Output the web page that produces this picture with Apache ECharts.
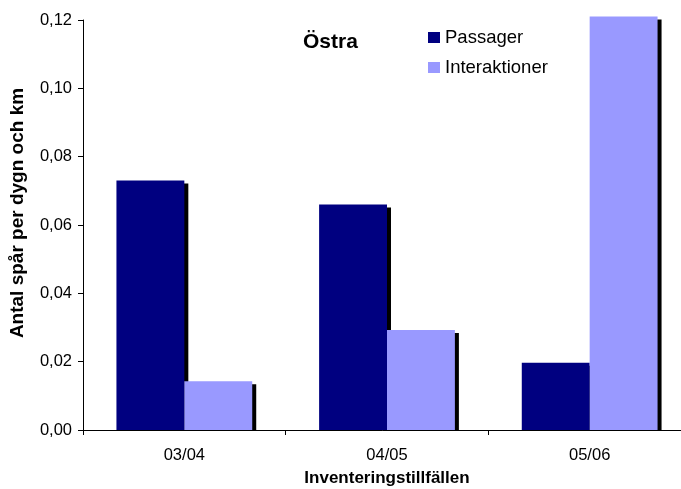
<!DOCTYPE html>
<html>
<head>
<meta charset="utf-8">
<script src="https://cdn.jsdelivr.net/npm/echarts@6/dist/echarts.min.js"></script>
<style>
html,body{margin:0;padding:0;background:#fff;}
#chart{width:681px;height:489px;}
</style>
</head>
<body>
<div id="chart"></div>
<script>
const categories = ['03/04', '04/05', '05/06'];
const passager = [0.073, 0.066, 0.0197];
const interaktioner = [0.0143, 0.0293, 0.121];
const seriesNames = ['Passager', 'Interaktioner'];
const yTicks = { min: 0, max: 0.12, interval: 0.02 };

const FONT = '"Liberation Sans", Arial, sans-serif';
const chart = echarts.init(document.getElementById('chart'), null, { renderer: 'canvas' });
const shadow = { shadowColor: '#000', shadowBlur: 0, shadowOffsetX: 4, shadowOffsetY: 3 };

chart.setOption({
  animation: false,
  backgroundColor: '#fff',
  title: {
    text: 'Östra',
    left: 303, top: 32,
    padding: 0,
    textStyle: { fontFamily: FONT, fontWeight: 'bold', fontSize: 21, color: '#000' }
  },
  legend: {
    orient: 'vertical',
    left: 428, top: 28,
    padding: 0,
    itemWidth: 12, itemHeight: 11,
    itemGap: 11,
    icon: 'rect',
    data: seriesNames,
    itemStyle: { shadowBlur: 0, shadowColor: 'rgba(0,0,0,0)', shadowOffsetX: 0, shadowOffsetY: 0 },
    textStyle: { fontFamily: FONT, fontSize: 18.5, color: '#000', lineHeight: 18 }
  },
  grid: { left: 83, width: 608, top: 20, bottom: 59, containLabel: false, outerBoundsMode: 'none' },
  graphic: [{
    type: 'rect', z: 3, silent: true,
    shape: { x: 83, y: 430.5, width: 600, height: 4 },
    style: { fill: '#fff' }
  }],
  xAxis: {
    type: 'category',
    data: categories,
    z: 5,
    name: 'Inventeringstillfällen',
    nameLocation: 'middle',
    nameGap: 40,
    nameTextStyle: { fontFamily: FONT, fontWeight: 'bold', fontSize: 17, color: '#000' },
    axisLine: { lineStyle: { color: '#000', width: 1 } },
    axisTick: { show: true, length: 5, lineStyle: { color: '#000' } },
    axisLabel: { fontFamily: FONT, fontSize: 16.5, color: '#000', margin: 17 },
    splitLine: { show: false }
  },
  yAxis: {
    type: 'value',
    min: yTicks.min, max: yTicks.max, interval: yTicks.interval,
    name: 'Antal spår per dygn och km',
    nameLocation: 'middle',
    nameGap: 56,
    nameTextStyle: { fontFamily: FONT, fontWeight: 'bold', fontSize: 19, color: '#000', padding: [0, 0, 0, 24] },
    axisLine: { show: true, lineStyle: { color: '#000', width: 1 } },
    axisTick: { show: true, length: 5, lineStyle: { color: '#000' } },
    axisLabel: {
      fontFamily: FONT, fontSize: 16.5, color: '#000', margin: 11,
      formatter: v => v.toFixed(2).replace('.', ',')
    },
    splitLine: { show: false }
  },
  series: [
    {
      name: seriesNames[0], type: 'bar', data: passager,
      barGap: '0%', barCategoryGap: '33%', clip: false,
      itemStyle: Object.assign({ color: '#000080' }, shadow)
    },
    {
      name: seriesNames[1], type: 'bar', data: interaktioner,
      barGap: '0%', barCategoryGap: '33%', clip: false,
      itemStyle: Object.assign({ color: '#9999FF' }, shadow)
    }
  ]
});
</script>
</body>
</html>
